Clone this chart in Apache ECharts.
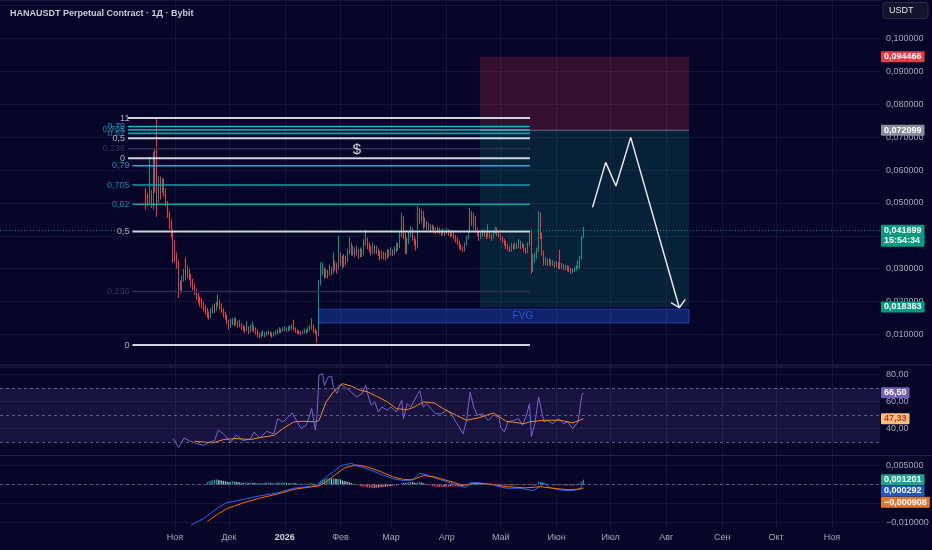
<!DOCTYPE html>
<html>
<head>
<meta charset="utf-8">
<script src="https://cdn.jsdelivr.net/npm/echarts@6/dist/echarts.min.js"></script>
<style>
  html, body { margin: 0; padding: 0; background: #070629; }
  #chart { width: 932px; height: 550px; }
</style>
</head>
<body>
<div id="chart"></div>
<script>
// ============================================
// DATA (x = days counted from 1 Nov 2025)
// ============================================

const ORIGIN = Date.parse('2025-11-01');
const DAY_MS = 86400000;
const FIRST_DAY = -16;          // first daily candle: 16 Oct 2025
const FIRST_OPEN = 0.0530;

// daily candles, one value per day from FIRST_DAY
const CLOSE = [
  0.0512,0.0500,0.0525,0.0510,0.0640,0.0600,0.0520,0.0560,0.0545,0.0560,
  0.0540,0.0500,0.0470,0.0440,0.0415,0.0370,0.0340,0.0320,0.0250,0.0240,
  0.0270,0.0290,0.0280,0.0295,0.0275,0.0260,0.0245,0.0230,0.0215,0.0205,
  0.0195,0.0190,0.0180,0.0170,0.0160,0.0155,0.0168,0.0180,0.0175,0.0190,
  0.0200,0.0185,0.0175,0.0160,0.0155,0.0140,0.0125,0.0132,0.0140,0.0135,
  0.0138,0.0128,0.0132,0.0122,0.0118,0.0112,0.0120,0.0110,0.0115,0.0125,
  0.0115,0.0110,0.0100,0.0092,0.0098,0.0103,0.0098,0.0100,0.0105,0.0100,
  0.0096,0.0100,0.0105,0.0108,0.0112,0.0110,0.0115,0.0118,0.0114,0.0118,
  0.0120,0.0122,0.0118,0.0110,0.0108,0.0105,0.0103,0.0106,0.0110,0.0108,
  0.0115,0.0122,0.0128,0.0112,0.0108,0.0100,0.0257,0.0290,0.0305,0.0280,
  0.0290,0.0282,0.0300,0.0290,0.0320,0.0305,0.0300,0.0340,0.0330,0.0320,
  0.0335,0.0325,0.0350,0.0375,0.0350,0.0360,0.0345,0.0355,0.0340,0.0350,
  0.0345,0.0375,0.0390,0.0370,0.0360,0.0350,0.0368,0.0352,0.0360,0.0345,
  0.0335,0.0345,0.0340,0.0335,0.0350,0.0345,0.0355,0.0348,0.0358,0.0372,
  0.0365,0.0400,0.0458,0.0410,0.0350,0.0380,0.0405,0.0420,0.0395,0.0380,
  0.0365,0.0470,0.0445,0.0460,0.0430,0.0440,0.0425,0.0430,0.0418,0.0425,
  0.0418,0.0412,0.0420,0.0415,0.0408,0.0415,0.0410,0.0418,0.0410,0.0402,
  0.0408,0.0398,0.0390,0.0380,0.0370,0.0362,0.0355,0.0375,0.0395,0.0415,
  0.0465,0.0440,0.0455,0.0420,0.0410,0.0395,0.0405,0.0415,0.0405,0.0398,
  0.0405,0.0400,0.0395,0.0410,0.0420,0.0410,0.0400,0.0392,0.0385,0.0378,
  0.0370,0.0360,0.0358,0.0370,0.0365,0.0372,0.0368,0.0378,0.0368,0.0372,
  0.0360,0.0350,0.0375,0.0410,0.0290,0.0330,0.0340,0.0355,0.0460,0.0400,
  0.0350,0.0320,0.0325,0.0318,0.0322,0.0315,0.0318,0.0312,0.0315,0.0310,
  0.0305,0.0308,0.0302,0.0305,0.0300,0.0296,0.0290,0.0294,0.0298,0.0302,
  0.0318,0.0330,0.0395,0.0417
];
const HIGH = [
  0.0545,0.0530,0.0640,0.0540,0.0656,0.0665,0.0757,0.0580,0.0580,0.0575,
  0.0575,0.0545,0.0505,0.0475,0.0450,0.0420,0.0385,0.0350,0.0325,0.0265,
  0.0280,0.0300,0.0335,0.0310,0.0300,0.0285,0.0270,0.0255,0.0240,0.0225,
  0.0215,0.0210,0.0200,0.0190,0.0180,0.0170,0.0180,0.0190,0.0195,0.0200,
  0.0222,0.0205,0.0195,0.0180,0.0170,0.0160,0.0145,0.0148,0.0150,0.0150,
  0.0152,0.0142,0.0145,0.0135,0.0130,0.0125,0.0141,0.0125,0.0130,0.0140,
  0.0128,0.0122,0.0115,0.0105,0.0110,0.0112,0.0108,0.0110,0.0112,0.0110,
  0.0106,0.0108,0.0112,0.0116,0.0122,0.0118,0.0122,0.0126,0.0122,0.0125,
  0.0128,0.0130,0.0145,0.0122,0.0115,0.0113,0.0110,0.0113,0.0118,0.0116,
  0.0122,0.0128,0.0150,0.0130,0.0118,0.0112,0.0265,0.0320,0.0318,0.0305,
  0.0300,0.0296,0.0312,0.0305,0.0350,0.0325,0.0318,0.0400,0.0350,0.0340,
  0.0345,0.0340,0.0360,0.0395,0.0380,0.0370,0.0365,0.0370,0.0360,0.0365,
  0.0360,0.0390,0.0418,0.0395,0.0380,0.0370,0.0380,0.0372,0.0370,0.0362,
  0.0355,0.0355,0.0352,0.0350,0.0360,0.0358,0.0365,0.0360,0.0368,0.0380,
  0.0378,0.0418,0.0470,0.0440,0.0410,0.0395,0.0418,0.0430,0.0425,0.0400,
  0.0390,0.0490,0.0485,0.0480,0.0475,0.0455,0.0445,0.0440,0.0435,0.0435,
  0.0430,0.0425,0.0428,0.0425,0.0420,0.0422,0.0420,0.0425,0.0420,0.0415,
  0.0418,0.0412,0.0402,0.0395,0.0385,0.0375,0.0368,0.0380,0.0400,0.0420,
  0.0485,0.0475,0.0470,0.0460,0.0425,0.0415,0.0412,0.0420,0.0418,0.0410,
  0.0435,0.0412,0.0405,0.0418,0.0428,0.0425,0.0415,0.0405,0.0398,0.0390,
  0.0385,0.0375,0.0368,0.0378,0.0375,0.0380,0.0378,0.0390,0.0385,0.0380,
  0.0375,0.0365,0.0380,0.0415,0.0420,0.0345,0.0350,0.0365,0.0475,0.0470,
  0.0410,0.0355,0.0335,0.0330,0.0332,0.0328,0.0326,0.0322,0.0324,0.0320,
  0.0357,0.0318,0.0314,0.0312,0.0310,0.0308,0.0302,0.0302,0.0305,0.0310,
  0.0325,0.0338,0.0400,0.0428
];
const LOW = [
  0.0480,0.0490,0.0495,0.0485,0.0480,0.0530,0.0458,0.0500,0.0510,0.0530,
  0.0520,0.0490,0.0455,0.0420,0.0395,0.0317,0.0320,0.0300,0.0211,0.0225,
  0.0230,0.0260,0.0265,0.0270,0.0265,0.0245,0.0235,0.0220,0.0205,0.0195,
  0.0185,0.0180,0.0170,0.0160,0.0150,0.0145,0.0150,0.0165,0.0165,0.0172,
  0.0185,0.0175,0.0165,0.0152,0.0145,0.0130,0.0115,0.0120,0.0128,0.0125,
  0.0128,0.0120,0.0122,0.0115,0.0110,0.0105,0.0110,0.0102,0.0105,0.0110,
  0.0108,0.0100,0.0092,0.0088,0.0090,0.0095,0.0092,0.0094,0.0098,0.0095,
  0.0090,0.0094,0.0098,0.0100,0.0104,0.0104,0.0108,0.0110,0.0108,0.0110,
  0.0112,0.0115,0.0112,0.0105,0.0102,0.0100,0.0097,0.0100,0.0103,0.0102,
  0.0106,0.0110,0.0115,0.0105,0.0100,0.0074,0.0095,0.0250,0.0280,0.0270,
  0.0272,0.0270,0.0278,0.0280,0.0285,0.0295,0.0285,0.0298,0.0310,0.0300,
  0.0305,0.0310,0.0320,0.0345,0.0340,0.0340,0.0335,0.0340,0.0330,0.0335,
  0.0335,0.0340,0.0370,0.0360,0.0350,0.0340,0.0345,0.0345,0.0345,0.0338,
  0.0325,0.0330,0.0328,0.0325,0.0330,0.0335,0.0340,0.0338,0.0342,0.0350,
  0.0355,0.0362,0.0395,0.0390,0.0345,0.0345,0.0375,0.0395,0.0385,0.0370,
  0.0355,0.0362,0.0435,0.0440,0.0420,0.0425,0.0415,0.0418,0.0410,0.0412,
  0.0408,0.0405,0.0408,0.0405,0.0400,0.0402,0.0400,0.0405,0.0400,0.0395,
  0.0398,0.0390,0.0380,0.0372,0.0360,0.0355,0.0350,0.0352,0.0370,0.0390,
  0.0410,0.0430,0.0420,0.0410,0.0400,0.0385,0.0390,0.0398,0.0398,0.0390,
  0.0395,0.0392,0.0385,0.0392,0.0405,0.0400,0.0395,0.0385,0.0378,0.0370,
  0.0360,0.0355,0.0350,0.0352,0.0358,0.0360,0.0360,0.0362,0.0360,0.0362,
  0.0352,0.0345,0.0348,0.0370,0.0285,0.0290,0.0318,0.0330,0.0350,0.0390,
  0.0340,0.0310,0.0310,0.0308,0.0310,0.0306,0.0308,0.0302,0.0305,0.0300,
  0.0298,0.0300,0.0296,0.0296,0.0292,0.0290,0.0284,0.0286,0.0290,0.0294,
  0.0300,0.0300,0.0328,0.0392
];

// RSI 14 and its moving average, [day, value]
const RSI = [
  [-1,32.6],[2,26],[5,33],[8,31],[12,29],[16,27.6],[19,30],[22,31],[24,39],[27,36],
  [31,30],[34,35],[38,31],[42,32.6],[44,37.5],[47,33],[51,38],[55,36],[57,47.4],[60,45],
  [63,48.6],[65,51.6],[68,45],[70,40],[73,42.5],[76,54.8],[78,38.8],[79,51],[80,79.5],[82,80.7],
  [83,72],[85,78],[87,78.8],[88,71],[90,66],[92,72.8],[95,70.4],[98,67],[101,63.5],[104,66],
  [106,72],[107,66],[109,57.3],[111,59.8],[113,52.3],[115,56],[118,53.6],[120,56],[123,52.3],[126,61],
  [127,47.4],[129,58.5],[131,56],[135,66],[136,68],[138,56],[140,58.5],[143,53.6],[145,51],[148,51],
  [151,53.6],[154,50],[156,45],[158,41],[160,36],[162,46],[164,67],[166,56],[168,50],[171,51],
  [174,46],[177,50],[180,48.6],[181,41],[183,37.5],[185,45],[188,46],[191,47.4],[193,42.5],[195,48.6],
  [197,58.5],[198,34],[200,43.7],[202,63.5],[205,45],[207,46],[210,43.7],[213,47.4],[216,43.7],[218,45],
  [221,40],[224,45],[226,64.7],[227,66.5]
];
const RSI_MA = [
  [11,30.6],[21,29.4],[27,31.9],[34,32.6],[42,31.9],[47,33.3],[55,35],[60,40],[66,45],[71,45.4],
  [78,45],[80,46],[84,59.8],[88,67.2],[93,73.3],[98,71.4],[103,68.4],[107,67.2],[112,64],[118,59.8],
  [123,54.8],[129,54],[133,56],[138,59.8],[144,59],[149,54.8],[155,50.6],[162,46.2],[169,48.1],[177,51.6],
  [184,45.4],[194,43.7],[197,45],[205,46.2],[214,46.2],[221,44.2],[227,47.33]
];

// MACD 12/26/9, values in thousandths
const MACD_UNIT = 0.001;
const MACD = [
  [9,-10.6],[16,-8.9],[21,-7.1],[25,-5.8],[28,-4.9],[32,-4.5],[38,-3.9],[47,-3.0],[57,-2.2],[66,-1.0],
  [73,-0.6],[80,-0.2],[82,0.7],[84,2.0],[88,3.3],[92,4.8],[95,5.2],[98,5.5],[101,4.8],[105,4.4],
  [110,3.5],[116,2.4],[121,1.5],[127,1.0],[132,1.2],[136,2.9],[140,2.5],[145,1.6],[151,0.7],[157,-0.2],
  [161,-0.8],[166,0.5],[171,0.3],[177,-0.2],[184,-1.0],[192,-1.0],[195,-1.3],[199,-1.6],[202,-0.8],[205,0.3],
  [208,-0.8],[214,-1.5],[221,-1.6],[225,-1.1],[227,0.292]
];
const SIGNAL = [
  [18,-9.7],[23,-8.0],[29,-6.3],[38,-4.8],[47,-3.6],[57,-2.5],[66,-1.3],[73,-0.8],[80,-0.4],[84,0.7],
  [90,2.9],[95,4.5],[101,5.1],[106,4.7],[114,3.4],[121,2.0],[127,1.3],[132,1.2],[138,2.3],[144,2.0],
  [149,1.3],[155,0.5],[160,-0.2],[168,0.3],[177,0],[184,-0.6],[195,-0.9],[203,-0.6],[210,-1.0],[219,-1.4],
  [225,-1.2],[227,-0.908]
];
const HIST_FIRST_DAY = 18;
const HIST = [
  0.6,0.8,1.0,1.1,1.2,1.3,1.2,1.1,1.0,0.9,
  0.8,0.7,0.6,0.7,0.8,0.8,0.7,0.6,0.5,0.5,
  0.4,0.5,0.5,0.4,0.5,0.5,0.4,0.3,0.3,0.3,
  0.4,0.4,0.5,0.5,0.5,0.4,0.4,0.4,0.4,0.5,
  0.5,0.5,0.5,0.5,0.4,0.4,0.4,0.4,0.5,0.3,
  0.2,0.2,0.2,0.2,0.2,0.2,0.2,0.3,0.3,0.2,
  0.1,0.0,0.6,1.0,1.3,1.4,1.5,1.6,1.6,1.5,
  1.6,1.5,1.4,1.5,1.3,1.0,0.9,0.8,0.6,0.5,
  0.4,0.2,0.1,-0.1,-0.3,-0.5,-0.6,-0.6,-0.7,-0.8,
  -0.9,-0.9,-1.0,-0.9,-0.9,-0.8,-0.8,-0.7,-0.7,-0.6,
  -0.6,-0.5,-0.4,-0.3,-0.3,-0.2,-0.1,0.0,0.4,0.5,
  0.4,0.5,0.6,0.7,0.6,0.5,0.3,0.6,0.6,0.5,
  0.3,0.2,0.0,-0.2,-0.3,-0.4,-0.5,-0.6,-0.6,-0.7,
  -0.7,-0.7,-0.6,-0.6,-0.6,-0.5,-0.5,-0.5,-0.5,-0.6,
  -0.6,-0.5,-0.4,-0.2,0.0,0.2,0.5,0.6,0.6,0.5,
  0.4,0.3,0.3,0.2,0.2,0.1,0.1,0.1,0.0,0.1,
  0.1,0.0,-0.1,-0.1,-0.2,-0.2,-0.3,-0.3,-0.3,-0.3,
  -0.2,-0.2,-0.1,-0.1,-0.1,-0.1,-0.2,-0.2,-0.1,0.1,
  -0.3,-0.3,-0.2,0.0,0.6,0.7,0.5,0.3,0.2,0.1,
  0.0,-0.1,-0.2,-0.2,-0.2,-0.2,-0.1,-0.2,-0.2,-0.3,
  -0.3,-0.3,-0.3,-0.3,-0.2,-0.1,0.1,0.4,0.8,1.2
];

// time axis
const TICK_DATES = ['2025-11-01','2025-12-01','2026-01-01','2026-02-01','2026-03-01','2026-04-01',
  '2026-05-01','2026-06-01','2026-07-01','2026-08-01','2026-09-01','2026-10-01','2026-11-01'];
const TICK_LABELS = ['Ноя','Дек','2026','Фев','Мар','Апр','Май','Июн','Июл','Авг','Сен','Окт','Ноя'];

// drawings on the price pane
const FIB_LEVELS = [0, 0.236, 0.5, 0.62, 0.705, 0.79, 1];
const FIB_TEXT = ['0', '0,236', '0,5', '0,62', '0,705', '0,79', '1'];
const FIB_UPPER = { zero: 0.0636, one: 0.0758, from: -26.1, to: 197.2 };
const FIB_LOWER = { zero: 0.0068, one: 0.0758, from: -23.6, to: 197.2 };
const POSITION = { from: 169.4, to: 285.6, stop: 0.094466, entry: 0.072099, target: 0.018383 };
const FVG = { from: 80, to: 285.6, low: 0.0135, high: 0.0177, labelDay: 193.3 };
const ARROW_PATH = [[232, 0.04866], [239.3, 0.06234], [245, 0.05514], [253.2, 0.06994], [280.2, 0.01815]];
const ARROW_HEAD = [[275.6, 0.01967], [280.2, 0.01815], [283.5, 0.0207]];
const DOLLAR = [101.1, 0.0661];

const LAST = { price: 0.041699, timer: '15:54:34', rsi: 66.5, rsiMa: 47.33 };

// ============================================
// STYLE
// ============================================

const BG = '#070629';
const GRID_COLOR = '#141436';
const AXIS_TEXT = '#a4a7b6';
const UP = '#089981';
const DOWN = '#f23645';
const FONT = 'Liberation Sans, Arial, sans-serif';
const FIB_COLORS = ['#d1d4dc', '#2c2f4c', '#d1d4dc', '#12a0ad', '#12a0ad', '#00bcd4', '#d1d4dc'];
const FIB_LABEL_COLORS = ['#d1d4dc', '#3a3d5c', '#d1d4dc', '#17a7c0', '#17a7c0', '#1bb8d6', '#d1d4dc'];
const FIB_WIDTHS = [2, 1.5, 2, 1.6, 1.6, 1.6, 2];

const X_MIN = -97.2;
const X_MAX = 391.7;
const MAIN_GRID = { top: 0, height: 367.4, min: 0, max: 0.1117 };
const RSI_GRID = { top: 366.5, height: 89.1, min: 20, max: 86 };
const MACD_GRID = { top: 456.1, height: 70.8, min: -0.0111, max: 0.0074 };

function fmt(v, digits) {
  return v.toFixed(digits).replace('.', ',').replace('-', '\u2212');
}

// value shift that moves a price tag by px pixels downwards on a pane
function shiftDown(pane, px) {
  return px * (pane.max - pane.min) / pane.height;
}

function tag(value, text, bg, fg) {
  return {
    yAxis: value,
    lineStyle: { color: 'rgba(0,0,0,0)', width: 1 },
    label: {
      show: true, position: 'end', distance: 1, formatter: text,
      backgroundColor: bg, color: fg || '#ffffff', fontSize: 9, fontWeight: 'bold',
      fontFamily: FONT, lineHeight: 10, padding: [1, 3, 0, 3], borderRadius: 1
    }
  };
}

function dashed(value) {
  return { yAxis: value, lineStyle: { color: '#5a5c80', type: [3, 3], width: 1 }, label: { show: false } };
}

function markLines(data) {
  return { silent: true, precision: 8, symbol: ['none', 'none'], label: { show: false }, data };
}

// ============================================
// BUILD
// ============================================

const TICK_DAYS = TICK_DATES.map(s => (Date.parse(s) - ORIGIN) / DAY_MS);

const candles = CLOSE.map((c, i) => {
  const o = i === 0 ? FIRST_OPEN : CLOSE[i - 1];
  return [FIRST_DAY + i, o, c, Math.min(LOW[i], o, c), Math.max(HIGH[i], o, c)];
});

const histData = HIST.map((v, i) => {
  const prev = i ? HIST[i - 1] : 0;
  const color = v >= 0 ? (v >= prev ? '#26a69a' : '#b2dfdb') : (v <= prev ? '#ff5252' : '#ffcdd2');
  return { value: [HIST_FIRST_DAY + i, v * MACD_UNIT], itemStyle: { color } };
});
const scaled = arr => arr.map(([d, v]) => [d, v * MACD_UNIT]);

const fibSeries = [];
const labelPoints = [];
[FIB_UPPER, FIB_LOWER].forEach(fib => {
  FIB_LEVELS.forEach((lvl, k) => {
    const price = fib.zero + lvl * (fib.one - fib.zero);
    fibSeries.push({
      type: 'line', xAxisIndex: 0, yAxisIndex: 0, z: 4, silent: true,
      symbol: 'none', animation: false,
      lineStyle: { color: FIB_COLORS[k], width: FIB_WIDTHS[k] },
      data: [[fib.from, price], [fib.to, price]]
    });
    labelPoints.push({
      value: [fib.from, price],
      label: { show: true, position: 'left', distance: 3, formatter: FIB_TEXT[k],
        color: FIB_LABEL_COLORS[k], fontSize: 9, fontFamily: FONT }
    });
  });
});
labelPoints.push({
  value: DOLLAR,
  label: { show: true, position: 'inside', formatter: '$', color: '#ffffff', fontSize: 15, fontFamily: FONT }
});
labelPoints.push({
  value: [FVG.labelDay, (FVG.low + FVG.high) / 2],
  label: { show: true, position: 'inside', formatter: 'FVG', color: '#2f62e6', fontSize: 10, fontFamily: FONT }
});

function xAxis(gridIndex, showLabels) {
  return {
    type: 'value', gridIndex, min: X_MIN, max: X_MAX,
    axisLine: { show: false },
    axisTick: { show: false, customValues: TICK_DAYS },
    splitLine: { show: true, lineStyle: { color: GRID_COLOR, width: 1 } },
    axisLabel: {
      show: showLabels, customValues: TICK_DAYS, margin: 6, fontSize: 9, color: AXIS_TEXT, fontFamily: FONT,
      formatter: v => {
        const i = TICK_DAYS.findIndex(t => Math.abs(t - v) < 0.5);
        if (i < 0) return '';
        return TICK_LABELS[i] === '2026' ? '{y|2026}' : TICK_LABELS[i];
      },
      rich: { y: { fontWeight: 'bold', color: '#d1d4dc', fontSize: 9, fontFamily: FONT } }
    }
  };
}

const yBase = {
  type: 'value', position: 'right',
  axisLine: { show: false }, axisTick: { show: false },
  splitLine: { show: true, lineStyle: { color: GRID_COLOR, width: 1 } }
};
const labelBase = { margin: 6, fontSize: 9, color: AXIS_TEXT, fontFamily: FONT };

const currentTag = tag(LAST.price - shiftDown(MAIN_GRID, 5.4), fmt(LAST.price, 6) + '\n' + LAST.timer, UP);
currentTag.label.padding = [1, 3, 1, 3];

const option = {
  backgroundColor: BG,
  animation: false,
  textStyle: { fontFamily: FONT },
  title: {
    text: 'HANAUSDT Perpetual Contract · 1Д · Bybit',
    left: 5, top: 4,
    textStyle: { color: '#c9ccd6', fontSize: 9, fontWeight: 'bold', fontFamily: FONT }
  },
  grid: [
    { left: 0, right: 52, top: MAIN_GRID.top, height: MAIN_GRID.height, containLabel: false },
    { left: 0, right: 52, top: RSI_GRID.top, height: RSI_GRID.height, containLabel: false },
    { left: 0, right: 52, top: MACD_GRID.top, height: MACD_GRID.height, containLabel: false }
  ],
  xAxis: [xAxis(0, false), xAxis(1, false), xAxis(2, true)],
  yAxis: [
    Object.assign({}, yBase, {
      gridIndex: 0, min: MAIN_GRID.min, max: MAIN_GRID.max, interval: 0.01,
      axisLabel: Object.assign({}, labelBase, {
        formatter: v => (v < 0.005 || v > 0.105) ? '' : fmt(v, 6)
      })
    }),
    Object.assign({}, yBase, {
      gridIndex: 1, min: RSI_GRID.min, max: RSI_GRID.max, interval: 20,
      axisLabel: Object.assign({}, labelBase, {
        formatter: v => (v <= 20 || v > 85) ? '' : fmt(v, 2)
      })
    }),
    Object.assign({}, yBase, {
      gridIndex: 2, min: MACD_GRID.min, max: MACD_GRID.max,
      axisTick: { show: false, customValues: [-0.01, -0.005, 0, 0.005] },
      axisLabel: Object.assign({}, labelBase, {
        customValues: [-0.01, 0.005],
        formatter: v => fmt(v, 6)
      })
    })
  ],
  graphic: [
    { type: 'line', silent: true, z: 10, shape: { x1: 0, y1: 365, x2: 932, y2: 365 },
      style: { stroke: '#24244a', lineWidth: 1 } },
    { type: 'line', silent: true, z: 10, shape: { x1: 0, y1: 455.5, x2: 932, y2: 455.5 },
      style: { stroke: '#24244a', lineWidth: 1 } },
    { type: 'rect', silent: true, z: 10, shape: { x: 883, y: 2.5, width: 45, height: 16, r: 3 },
      style: { fill: '#13132c', stroke: '#2b2b48', lineWidth: 1 } },
    { type: 'text', silent: true, z: 11, x: 889, y: 10.5,
      style: { text: 'USDT', fill: '#e0e3eb', fontSize: 9, fontFamily: FONT, verticalAlign: 'middle' } }
  ],
  series: [
    {
      name: 'HANAUSDT', type: 'candlestick', xAxisIndex: 0, yAxisIndex: 0, z: 3,
      barWidth: 1,
      encode: { x: 0, y: [1, 2, 3, 4] },
      itemStyle: { color: UP, color0: DOWN, borderColor: UP, borderColor0: DOWN, borderWidth: 1 },
      data: candles,
      markArea: {
        silent: true,
        data: [
          [{ coord: [POSITION.from, POSITION.stop], itemStyle: { color: 'rgba(242,54,69,0.2)' } },
           { coord: [POSITION.to, POSITION.entry] }],
          [{ coord: [POSITION.from, POSITION.entry], itemStyle: { color: 'rgba(8,153,129,0.19)' } },
           { coord: [POSITION.to, POSITION.target] }],
          [{ coord: [FVG.from, FVG.high],
             itemStyle: { color: 'rgba(41,98,255,0.3)', borderColor: 'rgba(41,98,255,0.55)', borderWidth: 1 } },
           { coord: [FVG.to, FVG.low] }]
        ]
      },
      markLine: markLines([
        { yAxis: LAST.price, lineStyle: { color: '#0a8a76', type: [1, 2], width: 1 }, label: { show: false } },
        tag(POSITION.stop, fmt(POSITION.stop, 6), '#f23645'),
        tag(POSITION.entry, fmt(POSITION.entry, 6), '#8a8d99'),
        tag(POSITION.target, fmt(POSITION.target, 6), UP),
        currentTag
      ])
    },
    ...fibSeries,
    {
      type: 'line', xAxisIndex: 0, yAxisIndex: 0, z: 4, silent: true, symbol: 'none',
      lineStyle: { color: 'rgba(170,180,205,0.55)', width: 1 },
      data: [[POSITION.from, POSITION.entry], [POSITION.to, POSITION.entry]]
    },
    {
      type: 'line', xAxisIndex: 0, yAxisIndex: 0, z: 5, silent: true, symbol: 'none',
      lineStyle: { color: '#e6e7ee', width: 1.5 },
      data: ARROW_PATH
    },
    {
      type: 'line', xAxisIndex: 0, yAxisIndex: 0, z: 5, silent: true, symbol: 'none',
      lineStyle: { color: '#e6e7ee', width: 1.5 },
      data: ARROW_HEAD
    },
    {
      type: 'scatter', xAxisIndex: 0, yAxisIndex: 0, z: 6, silent: true,
      symbolSize: 0, data: labelPoints
    },
    {
      name: 'RSI', type: 'line', xAxisIndex: 1, yAxisIndex: 1, z: 3, silent: true,
      symbol: 'none', lineStyle: { color: '#7b62c9', width: 1 },
      data: RSI,
      markArea: {
        silent: true,
        data: [[{ yAxis: 30, itemStyle: { color: 'rgba(126,87,194,0.15)' } }, { yAxis: 70 }]]
      },
      markLine: markLines([
        dashed(70), dashed(50), dashed(30),
        tag(LAST.rsi, fmt(LAST.rsi, 2), '#7560b8')
      ])
    },
    {
      name: 'RSI MA', type: 'line', xAxisIndex: 1, yAxisIndex: 1, z: 4, silent: true,
      symbol: 'none', lineStyle: { color: '#f5871f', width: 1 },
      data: RSI_MA,
      markLine: markLines([tag(LAST.rsiMa, fmt(LAST.rsiMa, 2), '#f4c27e', '#c8372d')])
    },
    {
      name: 'Histogram', type: 'bar', xAxisIndex: 2, yAxisIndex: 2, z: 2, silent: true,
      barWidth: 1, data: histData
    },
    {
      name: 'MACD', type: 'line', xAxisIndex: 2, yAxisIndex: 2, z: 3, silent: true,
      symbol: 'none', lineStyle: { color: '#2962ff', width: 1 },
      data: scaled(MACD),
      markLine: markLines([
        dashed(0),
        tag(HIST[HIST.length - 1] * MACD_UNIT, fmt(0.001201, 6), '#22a08c'),
        tag(MACD[MACD.length - 1][1] * MACD_UNIT - shiftDown(MACD_GRID, 7.7), fmt(0.000292, 6), '#2157c2'),
        tag(SIGNAL[SIGNAL.length - 1][1] * MACD_UNIT - shiftDown(MACD_GRID, 14.4), fmt(-0.000908, 6), '#e2772f')
      ])
    },
    {
      name: 'Signal', type: 'line', xAxisIndex: 2, yAxisIndex: 2, z: 3, silent: true,
      symbol: 'none', lineStyle: { color: '#ff6d00', width: 1 },
      data: scaled(SIGNAL)
    }
  ]
};

const chart = echarts.init(document.getElementById('chart'));
chart.setOption(option);
window.addEventListener('resize', () => chart.resize());
</script>
</body>
</html>
